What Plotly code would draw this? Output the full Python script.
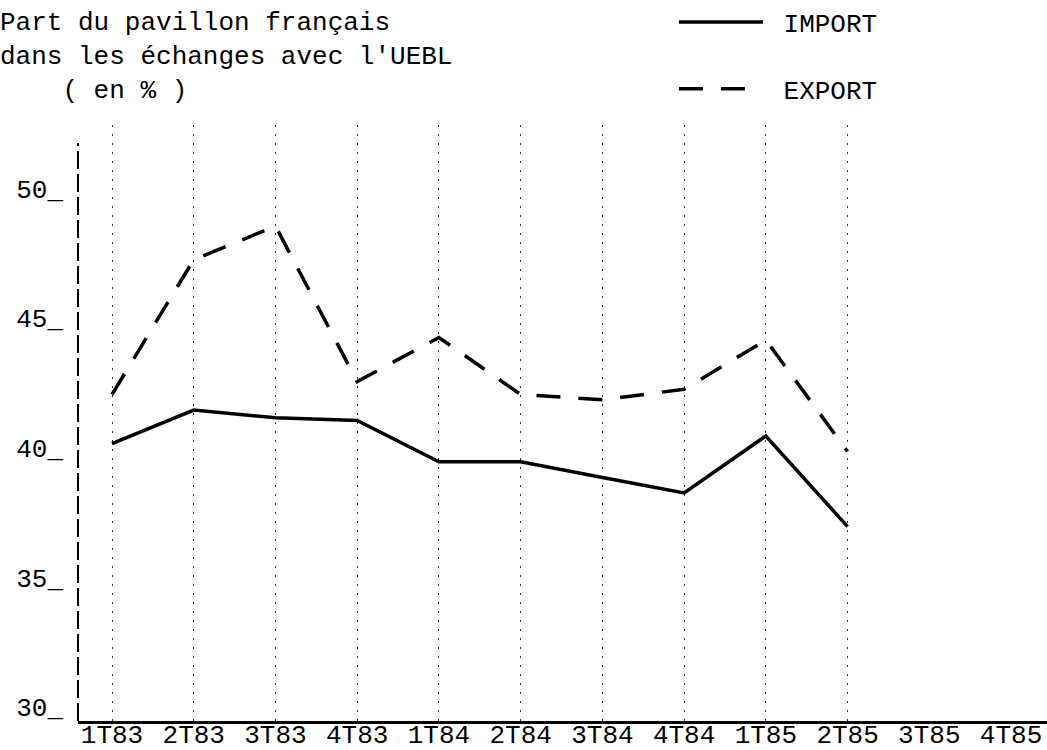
import plotly.graph_objects as go

categories = ["1T83", "2T83", "3T83", "4T83", "1T84", "2T84", "3T84", "4T84",
              "1T85", "2T85", "3T85", "4T85"]
data_categories = categories[:10]
import_vals = [40.7, 42.0, 41.7, 41.6, 40.0, 40.0, 39.4, 38.8, 41.0, 37.5]
export_vals = [42.6, 47.8, 49.1, 43.1, 44.8, 42.6, 42.4, 42.8, 44.7, 40.4]
y_tickvals = [30, 35, 40, 45, 50]
y_ticktext = ["30_", "35_", "40_", "45_", "50_"]

FONT = "Liberation Mono"
FS = 26

fig = go.Figure()
fig.add_trace(go.Scatter(
    x=data_categories, y=import_vals, name="\u00a0IMPORT", mode="lines",
    line=dict(color="black", width=3.5), legendgroup="imp",
))
fig.add_trace(go.Scatter(
    x=data_categories, y=export_vals, name="\u00a0EXPORT", mode="lines",
    line=dict(color="black", width=3.5, dash="24px,18px"), legendgroup="exp",
    xaxis="x2",
))

xrange = [-0.416, 11.44]
fig.update_layout(
    width=1047, height=750,
    paper_bgcolor="white", plot_bgcolor="white",
    margin=dict(l=78, r=0, t=125, b=29, autoexpand=False),
    font=dict(family=FONT, size=FS, color="black"),
    title=dict(
        text="Part du pavillon français<br>dans les échanges avec l'UEBL<br>\u00a0\u00a0\u00a0\u00a0( en % )",
        x=0, xref="container", xanchor="left",
        y=0.96, yref="container", yanchor="top",
        font=dict(family=FONT, size=FS, color="black"),
    ),
    xaxis=dict(
        type="category", categoryorder="array", categoryarray=categories,
        range=xrange, showgrid=False, zeroline=False, automargin=False,
        showline=True, linecolor="black", linewidth=3,
        ticks="", ticklabelstandoff=-12,
        tickfont=dict(family=FONT, size=FS, color="black"),
    ),
    xaxis2=dict(
        type="category", categoryorder="array", categoryarray=categories,
        range=xrange, overlaying="x", side="bottom", automargin=False,
        tickvals=data_categories, showticklabels=False, ticks="",
        showgrid=True, gridcolor="#333", gridwidth=1, griddash="2px,7px",
        showline=False, zeroline=False,
    ),
    yaxis=dict(
        range=[30, 53.0], tickvals=y_tickvals, ticktext=y_ticktext,
        showgrid=False, zeroline=False, showline=False, ticks="",
        automargin=False,
        ticklabelshift=-14, ticklabelstandoff=14,
        tickfont=dict(family=FONT, size=FS, color="black"),
    ),
    legend=dict(
        x=0.615, xanchor="left", y=1.212, yanchor="top",
        font=dict(family=FONT, size=FS, color="black"),
        itemwidth=84, tracegroupgap=30, bgcolor="rgba(0,0,0,0)",
    ),
    showlegend=True,
    shapes=[dict(
        type="line", xref="paper", yref="paper", x0=0, x1=0, y0=0, y1=0.97,
        line=dict(color="black", width=2, dash="18px,5px"),
    )],
)

fig.write_html("out.html", config={"displayModeBar": False},
               post_script="document.body.style.margin='0px';")
